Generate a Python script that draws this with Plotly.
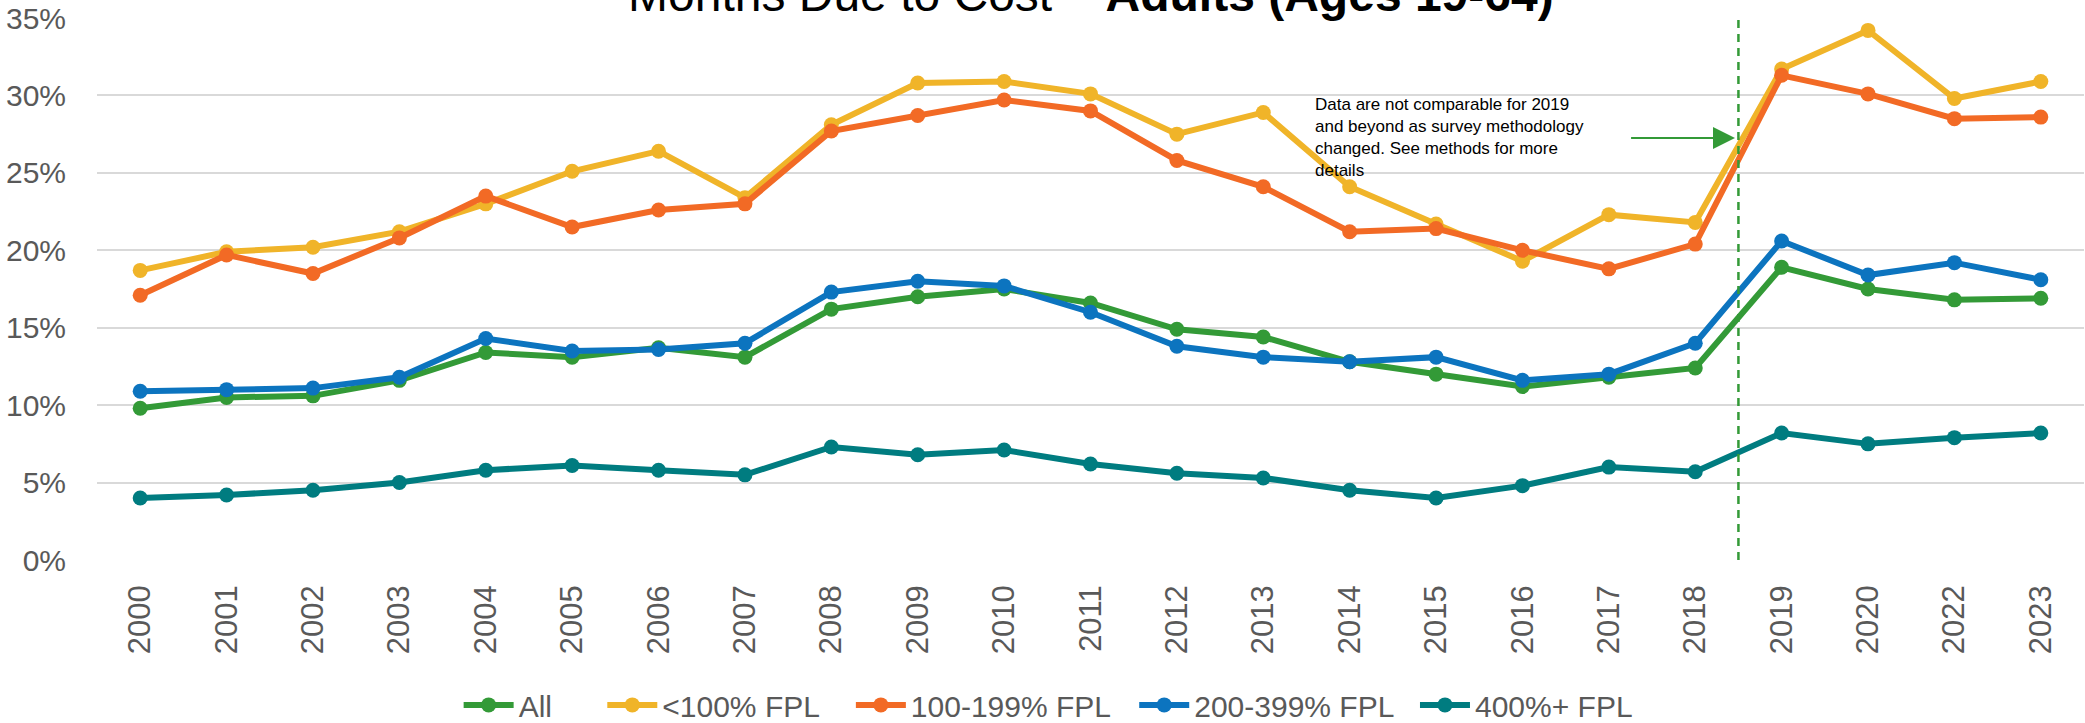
import plotly.graph_objects as go

# Survey years on the category axis (no 2021 release)
years = ["2000", "2001", "2002", "2003", "2004", "2005", "2006", "2007", "2008",
         "2009", "2010", "2011", "2012", "2013", "2014", "2015", "2016", "2017",
         "2018", "2019", "2020", "2022", "2023"]

# Percent of adults going without needed care due to cost, by income group
all_adults = [9.8, 10.5, 10.6, 11.6, 13.4, 13.1, 13.7, 13.1, 16.2, 17.0, 17.5, 16.6,
              14.9, 14.4, 12.8, 12.0, 11.2, 11.8, 12.4, 18.9, 17.5, 16.8, 16.9]
fpl_under_100 = [18.7, 19.9, 20.2, 21.2, 23.0, 25.1, 26.4, 23.4, 28.1, 30.8, 30.9, 30.1,
                 27.5, 28.9, 24.1, 21.7, 19.3, 22.3, 21.8, 31.7, 34.2, 29.8, 30.9]
fpl_100_199 = [17.1, 19.7, 18.5, 20.8, 23.5, 21.5, 22.6, 23.0, 27.7, 28.7, 29.7, 29.0,
               25.8, 24.1, 21.2, 21.4, 20.0, 18.8, 20.4, 31.3, 30.1, 28.5, 28.6]
fpl_200_399 = [10.9, 11.0, 11.1, 11.8, 14.3, 13.5, 13.6, 14.0, 17.3, 18.0, 17.7, 16.0,
               13.8, 13.1, 12.8, 13.1, 11.6, 12.0, 14.0, 20.6, 18.4, 19.2, 18.1]
fpl_400_plus = [4.0, 4.2, 4.5, 5.0, 5.8, 6.1, 5.8, 5.5, 7.3, 6.8, 7.1, 6.2,
                5.6, 5.3, 4.5, 4.0, 4.8, 6.0, 5.7, 8.2, 7.5, 7.9, 8.2]

series_names = ["All", "<100% FPL", "100-199% FPL", "200-399% FPL", "400%+ FPL"]
series_values = [all_adults, fpl_under_100, fpl_100_199, fpl_200_399, fpl_400_plus]
series_colors = ["#339A37", "#F0B429", "#F26A25", "#0C74BF", "#007C80"]

y_ticks = [0, 5, 10, 15, 20, 25, 30, 35]
y_tick_labels = ["0%", "5%", "10%", "15%", "20%", "25%", "30%", "35%"]

note_text = ("Data are not comparable for 2019<br>and beyond as survey methodology<br>"
             "changed. See methods for more<br>details")
title_text = "Months Due to Cost – <b>Adults (Ages 19-64)</b>"

FONT = "Liberation Sans, Arial, sans-serif"
GREY = "#595959"

# Each series gets its own legend box so the entries sit along the bottom row
legend_ids = ["legend", "legend2", "legend3", "legend4", "legend5"]
legend_x = [0.182, 0.2543, 0.3794, 0.522, 0.6633]

fig = go.Figure()
for name, vals, col, lid in zip(series_names, series_values, series_colors, legend_ids):
    fig.add_trace(go.Scatter(
        x=years, y=vals, name=name, mode="lines+markers",
        line=dict(color=col, width=6),
        marker=dict(color=col, size=15),
        legend=lid,
    ))

# Break in methodology between 2018 and 2019
fig.add_shape(type="line", xref="x", yref="y", x0=18.5, x1=18.5, y0=0, y1=35,
              line=dict(color="#339A37", width=2.5, dash="8px,6px"))

fig.add_annotation(xref="x", yref="y", x=13.57, y=27.3, xanchor="left", yanchor="middle",
                   text=note_text, align="left", showarrow=False,
                   font=dict(family=FONT, size=17, color="#000000"))

fig.add_annotation(xref="x", yref="y", axref="x", ayref="y",
                   x=18.46, y=27.25, ax=17.24, ay=27.25, text="",
                   showarrow=True, arrowhead=2, arrowsize=2.2, arrowwidth=2,
                   arrowcolor="#339A37", standoff=0)

fig.add_annotation(xref="paper", yref="paper", x=0.5, y=1, yshift=-5,
                   xanchor="center", yanchor="bottom", text=title_text, showarrow=False,
                   font=dict(family=FONT, size=48, color="#000000"))

legend_style = dict(orientation="h", yref="container", y=0.025, yanchor="middle",
                    xanchor="left", font=dict(family=FONT, size=30, color=GREY),
                    itemwidth=50, bgcolor="rgba(0,0,0,0)")
layout_legends = {lid: dict(legend_style, x=lx) for lid, lx in zip(legend_ids, legend_x)}

fig.update_layout(
    width=2085, height=723,
    margin=dict(l=97, r=1, t=18, b=163, autoexpand=False),
    paper_bgcolor="white", plot_bgcolor="white",
    font=dict(family=FONT, color=GREY),
    showlegend=True,
    **layout_legends,
)
fig.update_xaxes(type="category", range=[-0.5, 22.5], showgrid=False, zeroline=False,
                 showline=False, tickangle=-90, ticklabelstandoff=18,
                 tickfont=dict(family=FONT, size=31, color=GREY))
fig.update_yaxes(range=[0, 35], tickvals=y_ticks, ticktext=y_tick_labels,
                 showgrid=True, gridcolor="#D9D9D9", gridwidth=2, zeroline=False,
                 showline=False, ticklabelstandoff=30,
                 tickfont=dict(family=FONT, size=30, color=GREY))

fig.write_html("out.html")
